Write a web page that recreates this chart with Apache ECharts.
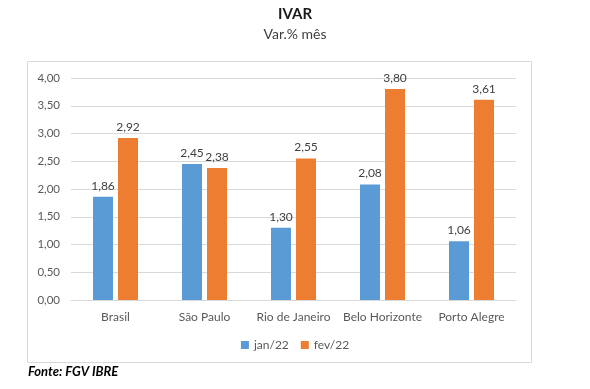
<!DOCTYPE html>
<html><head><meta charset="utf-8">
<script src="https://cdn.jsdelivr.net/npm/echarts@6/dist/echarts.min.js"></script>
<style>html,body{margin:0;padding:0;background:#fff;}#c{width:590px;height:389px;}</style>
</head><body><div id="c"></div>
<script>
const categories = ['Brasil','São Paulo','Rio de Janeiro','Belo Horizonte','Porto Alegre'];
const jan22 = [1.86, 2.45, 1.30, 2.08, 1.06];
const fev22 = [2.92, 2.38, 2.55, 3.80, 3.61];
const seriesNames = ['jan/22','fev/22'];
const yTicks = {min:0, max:4, interval:0.5};
const fmt = v => Number(v).toFixed(2).replace('.', ',');
const FONT = 'Lato, "Open Sans", sans-serif';
const chart = echarts.init(document.getElementById('c'));
chart.setOption({
  animation:false,
  textStyle:{fontFamily:FONT},
  title:[
    {text:'IVAR', left:'center', top:2, textStyle:{fontFamily:FONT, fontSize:15, fontWeight:'bold', color:'#1a1a1a'}},
    {text:'Var.% mês', left:'center', top:22, textStyle:{fontFamily:FONT, fontSize:14, fontWeight:'normal', color:'#404040'}}
  ],
  graphic:[
    {type:'rect', shape:{x:27.5, y:61.5, width:504, height:301}, style:{fill:'none', stroke:'#d9d9d9', lineWidth:1}, z:-1},
    {type:'text', left:28, top:365, style:{text:'Fonte: FGV IBRE', font:'italic bold 13px '+FONT, fill:'#000'}}
  ],
  grid:{left:71, right:74, top:78, bottom:89},
  legend:{bottom:33, left:'center', itemWidth:8, itemHeight:8, itemGap:12, icon:'rect',
    textStyle:{fontFamily:FONT, fontSize:12, color:'#595959'}, data:seriesNames},
  xAxis:{type:'category', data:categories,
    axisLine:{lineStyle:{color:'#d9d9d9'}}, axisTick:{show:false},
    axisLabel:{color:'#595959', fontSize:12, margin:11, fontFamily:FONT, interval:0}},
  yAxis:{type:'value', min:yTicks.min, max:yTicks.max, interval:yTicks.interval,
    axisLine:{show:false}, axisTick:{show:false},
    splitLine:{lineStyle:{color:'#d9d9d9'}},
    axisLabel:{color:'#595959', fontSize:11.5, margin:11, fontFamily:FONT, formatter:fmt}},
  series:[
    {name:seriesNames[0], type:'bar', data:jan22, barWidth:20, barGap:'25%', barCategoryGap:'49%',
      itemStyle:{color:'#5B9BD5'},
      label:{show:true, position:'top', distance:5, color:'#404040', fontSize:12, fontFamily:FONT, formatter:p=>fmt(p.value)}},
    {name:seriesNames[1], type:'bar', data:fev22, barWidth:20,
      itemStyle:{color:'#ED7D31'},
      label:{show:true, position:'top', distance:5, color:'#404040', fontSize:12, fontFamily:FONT, formatter:p=>fmt(p.value)}}
  ]
});
</script></body></html>
